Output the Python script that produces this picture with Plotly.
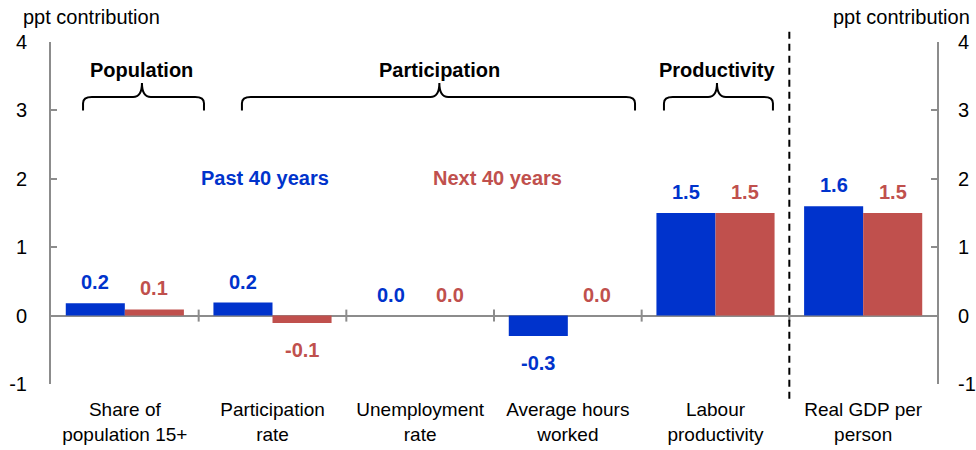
import plotly.graph_objects as go

categories = ["Share of<br>population 15+", "Participation<br>rate", "Unemployment<br>rate",
              "Average hours<br>worked", "Labour<br>productivity", "Real GDP per<br>person"]
past_40 = [0.18, 0.19, 0.0, -0.3, 1.5, 1.6]
next_40 = [0.09, -0.11, 0.0, 0.0, 1.5, 1.5]
y_ticks = [-1, 0, 1, 2, 3, 4]
y_tick_text = ["-1", "0", "1", "2", "3", "4"]
groups = [("Population", -0.283, 0.116, 0.536),
          ("Participation", 0.793, 2.13, 3.455),
          ("Productivity", 3.651, 4.01, 4.389)]

BLUE = "#0033CC"
RED = "#C0504D"
GREY = "#8C8C8C"
FONT = "Liberation Sans, Arial, sans-serif"
FS = 20
FS_TICK = 19

xs = list(range(len(categories)))

fig = go.Figure()
fig.add_trace(go.Bar(x=xs, y=past_40, name="Past 40 years", marker_color=BLUE,
                     marker_line_width=0, hoverinfo="skip"))
fig.add_trace(go.Bar(x=xs, y=next_40, name="Next 40 years", marker_color=RED,
                     marker_line_width=0, hoverinfo="skip"))
# invisible trace to activate right axis
fig.add_trace(go.Scatter(x=[0], y=[0], yaxis="y2", mode="markers",
                         marker_opacity=0, showlegend=False, hoverinfo="skip"))

annotations = []
for series, off, col in ((past_40, -0.2, BLUE), (next_40, 0.2, RED)):
    for i, v in enumerate(series):
        r = round(v, 1)
        txt = f"{abs(r):.1f}" if r == 0 else f"{r:.1f}"
        annotations.append(dict(x=i + off, y=v, xref="x", yref="y", text=f"<b>{txt}</b>",
                                showarrow=False, yanchor="middle",
                                yshift=21 if r >= 0 else -27,
                                font=dict(family=FONT, size=FS, color=col)))

# legend texts
annotations.append(dict(x=0.946, y=2.01, xref="x", yref="y", text="<b>Past 40 years</b>",
                        showarrow=False, font=dict(family=FONT, size=FS, color=BLUE)))
annotations.append(dict(x=2.527, y=2.01, xref="x", yref="y", text="<b>Next 40 years</b>",
                        showarrow=False, font=dict(family=FONT, size=FS, color=RED)))

# axis titles
annotations.append(dict(x=-0.034, y=1.073, xref="paper", yref="paper", text="ppt contribution",
                        showarrow=False, xanchor="left", yanchor="middle",
                        font=dict(family=FONT, size=FS, color="black")))
annotations.append(dict(x=1.0395, y=1.073, xref="paper", yref="paper", text="ppt contribution",
                        showarrow=False, xanchor="right", yanchor="middle",
                        font=dict(family=FONT, size=FS, color="black")))

shapes = []
# braces + group titles
yb, yl, yp = 3.0, 3.196, 3.40
r = 0.06
for title, x0, xm, x1 in groups:
    path = (f"M {x0},{yb} L {x0},{yl - 0.09} Q {x0},{yl} {x0 + r},{yl} "
            f"L {xm - r},{yl} Q {xm},{yl} {xm},{yp} "
            f"Q {xm},{yl} {xm + r},{yl} L {x1 - r},{yl} Q {x1},{yl} {x1},{yl - 0.09} L {x1},{yb}")
    shapes.append(dict(type="path", path=path, xref="x", yref="y",
                       line=dict(color="black", width=2)))
    annotations.append(dict(x=xm, y=3.59, xref="x", yref="y", text=f"<b>{title}</b>",
                            showarrow=False, font=dict(family=FONT, size=FS, color="black")))

# group separator ticks on zero line
for b in [0.5, 1.5, 2.5, 3.5, 4.5]:
    shapes.append(dict(type="line", xref="x", yref="y", x0=b, x1=b,
                       ysizemode="pixel", yanchor=0, y0=-6, y1=6,
                       line=dict(color=GREY, width=2)))

# dashed divider
shapes.append(dict(type="line", xref="x", yref="paper", x0=4.5, x1=4.5, y0=1.03, y1=-0.056,
                   line=dict(color="black", width=2, dash="7px,5px")))

fig.update_layout(
    width=976, height=450,
    margin=dict(l=51, r=39, t=42, b=66, autoexpand=False),
    paper_bgcolor="white", plot_bgcolor="white",
    barmode="group", bargap=0.2, bargroupgap=0,
    showlegend=False,
    font=dict(family=FONT, size=FS, color="black"),
    xaxis=dict(range=[-0.5, 5.5], tickvals=xs, ticktext=categories, showgrid=False,
               zeroline=False, showline=False, ticks="", tickfont=dict(size=FS_TICK),
               ticklabelstandoff=12, fixedrange=True, automargin=False),
    yaxis=dict(range=[-1, 4], tickvals=y_ticks, ticktext=y_tick_text, showgrid=False,
               zeroline=True, automargin=False,
               zerolinecolor=GREY, zerolinewidth=2, showline=True, linecolor=GREY,
               linewidth=2, ticks="inside", ticklen=6, tickcolor=GREY, tickwidth=2,
               ticklabelstandoff=18, tickfont=dict(size=FS)),
    yaxis2=dict(range=[-1, 4], tickvals=y_ticks, ticktext=y_tick_text, overlaying="y",
                side="right", automargin=False, ticklabeloverflow="allow",
                showgrid=False, zeroline=False, showline=True, linecolor=GREY,
                linewidth=2, ticks="inside", ticklen=6, tickcolor=GREY, tickwidth=2,
                ticklabelstandoff=15, tickfont=dict(size=FS)),
    annotations=annotations,
    shapes=shapes,
)

# remove the default 8px page margin so the 976x450 figure fills the window exactly
fig.write_html("out.html", config={"displayModeBar": False},
               post_script="document.body.style.margin='0';document.body.style.overflow='hidden';")
